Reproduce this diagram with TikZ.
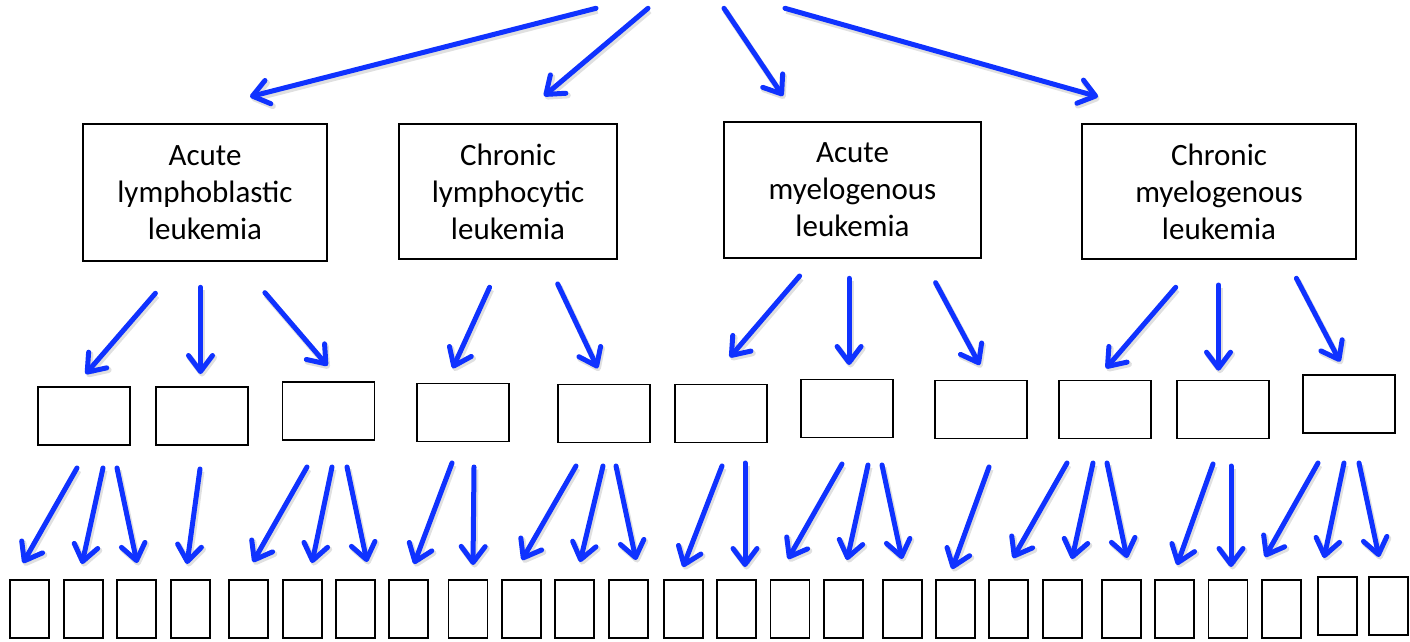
\documentclass[tikz,border=0pt]{standalone}
\usepackage{fontspec}
\setmainfont{Carlito}
\usetikzlibrary{arrows.meta}
\definecolor{arrblue}{RGB}{15,50,255}
\tikzset{
  arr/.style={draw=arrblue, line width=5pt, line cap=round, line join=round,
    -{Straight Barb[length=16pt,width=24pt,line cap=round,line join=round]},
    preaction={draw=black, draw opacity=0.12, line width=6pt,
      transform canvas={shift={(1.5pt,-2.5pt)}}}},
  bigbox/.style={draw=black, line width=1.8pt, fill=white, align=center,
    font=\fontsize{31}{37}\selectfont, inner sep=0pt},
  midbox/.style={draw=black, line width=1.8pt, fill=white,
    minimum width=92pt, minimum height=58pt, inner sep=0pt},
  smallbox/.style={draw=black, line width=1.8pt, fill=white,
    minimum width=39pt, minimum height=58pt, inner sep=0pt}
}
\begin{document}
\begin{tikzpicture}[x=1pt,y=-1pt]
\useasboundingbox (0,0) rectangle (1410,642);
\fill[white] (0,0) rectangle (1410,642);

% top-level boxes
\node[bigbox, minimum width=244pt, minimum height=137pt] (L1) at (205,192.5) {Acute\\lymphoblastic\\leukemia};
\node[bigbox, minimum width=218pt, minimum height=135pt] (L2) at (508,191.5) {Chronic\\lymphocytic\\leukemia};
\node[bigbox, minimum width=257pt, minimum height=136pt] (L3) at (852.5,190) {Acute\\myelogenous\\leukemia};
\node[bigbox, minimum width=274pt, minimum height=135pt] (L4) at (1219,191.5) {Chronic\\myelogenous\\leukemia};

% middle boxes
\foreach \n/\cx/\cy in {1/84/416, 2/202/416, 3/328.4/410.9, 4/462.9/412.5,
  5/603.6/413.5, 6/721/413.4, 7/846.6/408.4, 8/980.9/409.5,
  9/1104.8/409.5, 10/1222.8/409.5, 11/1348.8/404.2}
  \node[midbox] (m\n) at (\cx,\cy) {};

% bottom boxes
\foreach \n/\cx in {1/29.5, 2/83.5, 3/136.5, 4/190.5, 5/248.5, 6/302.5, 7/355.5,
  8/408.5, 9/468, 10/521.5, 11/574.5, 12/628.5, 13/683.5, 14/736.5, 15/790,
  16/843.5, 17/902.5, 18/955.5, 19/1008.5, 20/1062.5, 21/1121.5, 22/1174.5,
  23/1228, 24/1281.5}
  \node[smallbox] (b\n) at (\cx,609) {};
\node[smallbox] (b25) at (1337.5,606) {};
\node[smallbox] (b26) at (1388.5,606) {};

% top arrows
\foreach \n/\ax/\ay/\bx/\by in {1/596/8.3/250/96.7, 2/648/8.3/544/96,
  3/724/8.3/783/96, 4/785/8.3/1098/96.7} {
  \coordinate (ts\n) at (\ax,\ay);
  \coordinate (te\n) at (\bx,\by);
  \draw[arr] (ts\n) -- (te\n);
}

% middle arrows
\foreach \n/\ax/\ay/\bx/\by in {1/155.4/293.3/85.6/374, 2/200.5/287.3/200.5/374,
  3/264.9/292.7/327.5/365.7, 4/489.6/287.3/452.7/368.3, 5/557.7/284/597.7/368.3,
  6/799.6/276/729.8/357.3, 7/849.1/278.3/849.1/365, 8/935.6/282.7/979.8/365,
  9/1175.7/287.3/1105.9/368.3, 10/1218.5/285/1218.5/370.7, 11/1296.4/278.3/1340.1/361.7} {
  \coordinate (ms\n) at (\ax,\ay);
  \coordinate (me\n) at (\bx,\by);
  \draw[arr] (ms\n) -- (me\n);
}

% bottom arrows
\foreach \n/\ax/\ay/\bx/\by in {1/77/468/23/563, 2/103/468/82/564, 3/117/468/137/563,
  4/200/469/187/564, 5/307/467/253/562, 6/332/467/312/563, 7/347/467/367/562,
  8/452/463/414/564, 9/474/467/473/565, 10/576/466/522/560, 11/603/466/580/562,
  12/616/466/636/560, 13/722/466/683/567, 14/745/463/745/567, 15/842/464/788/559,
  16/868/465/847/560, 17/882/465/902/559, 18/989/467/952/569, 19/1067/463/1013/558,
  20/1093/463/1072/559, 21/1107/463/1127/558, 22/1213/464/1177/565,
  23/1231/466/1231/567, 24/1318/463/1265/557, 25/1344/463/1324/558,
  26/1359/463/1379/557} {
  \coordinate (bs\n) at (\ax,\ay);
  \coordinate (be\n) at (\bx,\by);
  \draw[arr] (bs\n) -- (be\n);
}
\end{tikzpicture}
\end{document}
